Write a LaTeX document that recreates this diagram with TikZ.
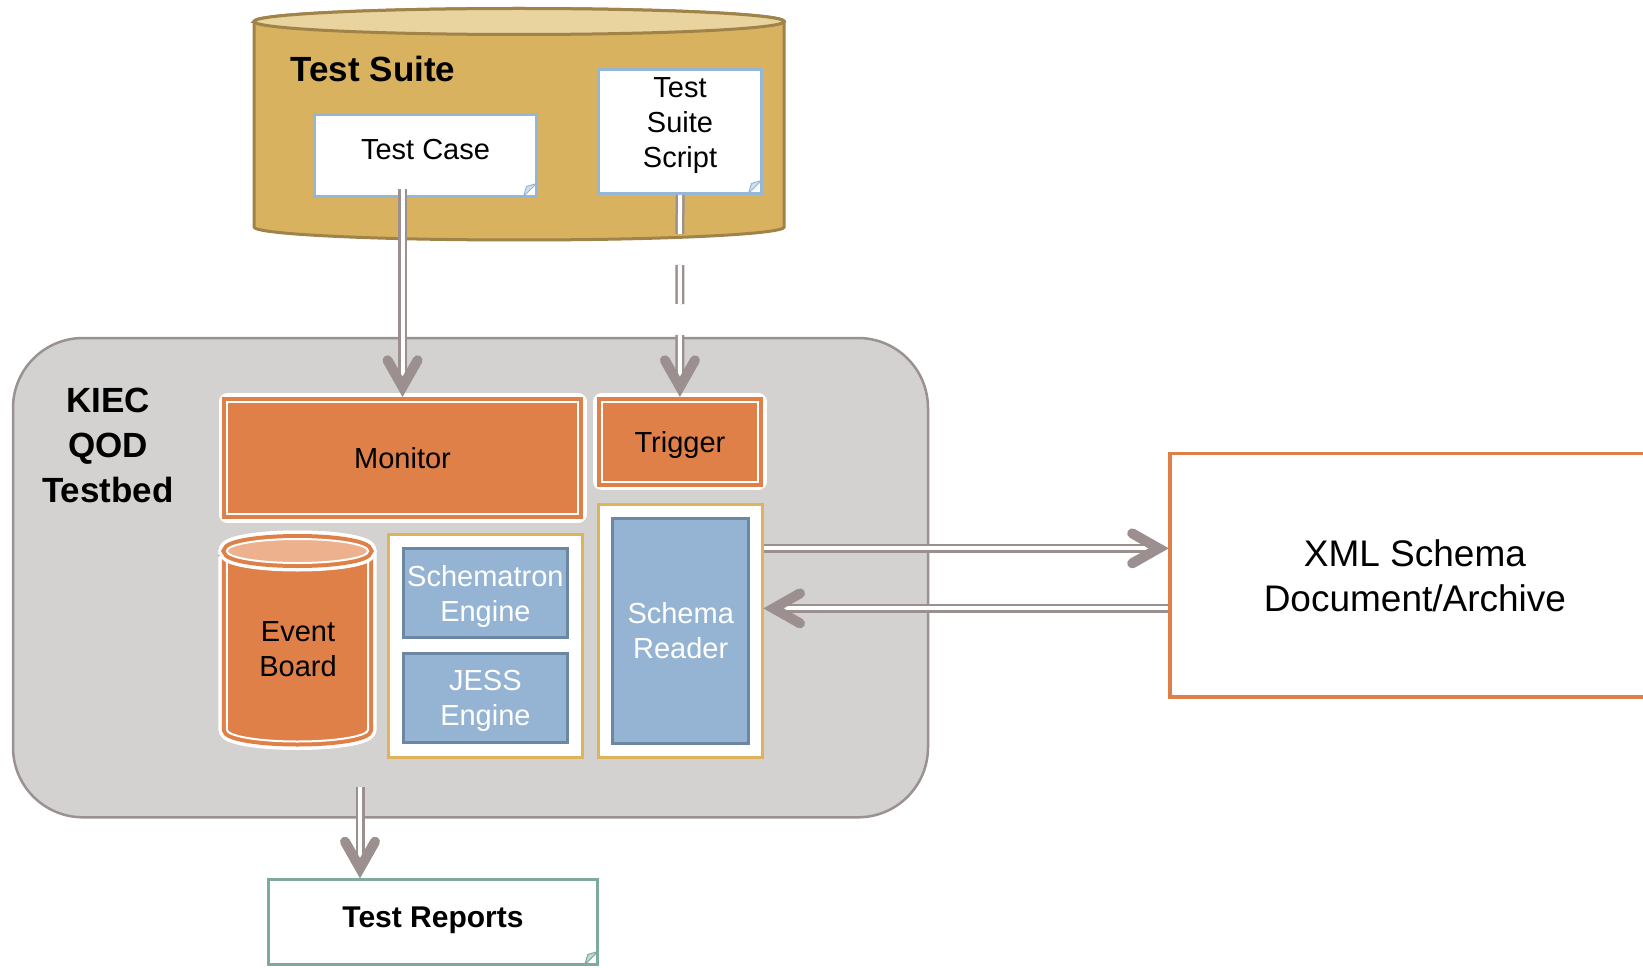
\documentclass[tikz,border=0pt]{standalone}
\usepackage{fontspec}
\setmainfont{Liberation Sans}
\usetikzlibrary{calc,shapes.misc,decorations.markings}

\definecolor{orangec}{RGB}{222,128,72}
\definecolor{lightorange}{RGB}{237,177,142}
\definecolor{bluec}{RGB}{149,180,211}
\definecolor{blueedge}{RGB}{108,135,163}
\definecolor{goldc}{RGB}{221,180,92}
\definecolor{suitefill}{RGB}{216,178,94}
\definecolor{suitetopc}{RGB}{233,211,158}
\definecolor{suiteedge}{RGB}{160,131,72}
\definecolor{docblue}{RGB}{149,183,215}
\definecolor{reportc}{RGB}{125,170,155}
\definecolor{kiecfill}{RGB}{211,210,209}
\definecolor{kiecedge}{RGB}{155,145,145}
\definecolor{arrowc}{RGB}{155,143,143}
\definecolor{xmlc}{RGB}{224,126,72}

\begin{document}
\begin{tikzpicture}[x=0.5pt,y=-0.5pt,
	every node/.style={font=\fontsize{14.5pt}{17.5pt}\selectfont, align=center, inner sep=0pt},
	bigtext/.style={font=\fontsize{17.5pt}{22.5pt}\selectfont\bfseries},
	orangeframe/.style={draw=white, line width=1pt, preaction={draw=white, line width=8.5pt, line join=round}, preaction={draw=orangec, line width=5pt}},
	obox/.style={orangeframe, fill=orangec, rectangle, text depth=0pt},
	bluebox/.style={fill=bluec, draw=blueedge, line width=1.5pt, text=white, text depth=0pt},
	goldbox/.style={fill=white, draw=goldc, line width=1.5pt},
	doc/.style={chamfered rectangle, chamfered rectangle corners=south east, chamfered rectangle xsep=6.5pt, draw=#1, fill=white, line width=1.5pt},
	fold/.style={fill=#1!45!white, draw=#1, line width=0.5pt, line join=round},
	suitebody/.style={fill=suitefill, draw=suiteedge, line width=1.5pt},
	suitetop/.style={fill=suitetopc, draw=suiteedge, line width=1.5pt},
	dline/.style={preaction={draw=arrowc, line width=1.25pt, double=white, double distance=2pt, shorten >=4pt, #1}, postaction={decorate, decoration={markings, mark=at position 1 with {\draw[arrowc, line width=5pt, line cap=round, line join=miter] (-18pt,7.5pt) -- (-4.75pt,0pt) -- (-18pt,-7.5pt);}}}},
	dline/.default={solid}]
	\useasboundingbox (0,0) rectangle (1643,968);

	\filldraw[suitebody] (254,21.5) -- (254,227) arc (180:360:132.55pt and 6.5pt) -- (784.2,21.5) arc (0:180:132.55pt and 6.5pt) -- cycle;
	\filldraw[suitetop] (519.1,21.5) ellipse (132.55pt and 6.5pt);
	\node (suite) at (373,68.5)[bigtext]{Test Suite};
	\node (tcase) at (425.5,155.5)[doc=docblue, minimum width=111pt, minimum height=41pt, label={[yshift=2.75pt]center:Test Case}]{};
	\filldraw[fold=docblue] (523.5,196.5) -- (536.5,183.5) -- (526.5,186.5) -- cycle;
	\node (script) at (680,131.5)[doc=docblue, minimum width=81.5pt, minimum height=62pt, label={[yshift=3pt]center:{Test\\Suite\\Script}}]{};
	\filldraw[fold=docblue] (748.5,193.5) -- (761.5,180.5) -- (751.5,183.5) -- cycle;

	\node (kiec) at (470.5,577.65)[draw=kiecedge, fill=kiecfill, line width=1.25pt, rounded corners=35pt, minimum width=457.5pt, minimum height=239.65pt]{};
	\node (kiectext) at (108,445)[bigtext]{KIEC\\QOD\\Testbed};
	\node (monitor) at (402.55,458)[obox, minimum width=175.55pt, minimum height=56.2pt]{Monitor};
	\node (trigger) at (679.9,441.65)[obox, minimum width=78.4pt, minimum height=39.85pt]{Trigger};

	\path[orangeframe, fill=orangec] (226.8,551) -- (226.8,729.5) arc (180:360:35.35pt and 6pt) -- (368.2,551) arc (0:180:35.35pt and 6pt) -- cycle;
	\path[orangeframe, fill=lightorange] (297.5,551) ellipse (35.35pt and 6pt);
	\node (board) at (298,649){Event\\Board};

	\node (schembox) at (485.4,645.65)[goldbox, minimum width=97.1pt, minimum height=111.45pt]{};
	\node (schematron) at (485.4,593)[bluebox, minimum width=82.3pt, minimum height=44.8pt]{Schematron\\Engine};
	\node (jess) at (485.4,697.85)[bluebox, minimum width=82.3pt, minimum height=44.65pt]{JESS\\Engine};
	\node (readerbox) at (680.5,630.65)[goldbox, minimum width=82pt, minimum height=126.45pt]{};
	\node (reader) at (680.7,630.85)[bluebox, minimum width=67.8pt, minimum height=112.65pt]{Schema\\Reader};

	\node (xml) at (1414.9,575.35)[draw=xmlc, fill=white, line width=1.75pt, minimum width=245pt, minimum height=121.85pt, font=\fontsize{18.5pt}{22.5pt}\selectfont]{XML Schema\\Document/Archive};

	\node (reports) at (433,921.85)[doc=reportc, minimum width=164.8pt, minimum height=42.65pt, label={[yshift=0.8pt, font=\fontsize{15pt}{18pt}\selectfont\bfseries]center:Test Reports}]{};
	\filldraw[fold=reportc] (584.8,964.5) -- (597.8,951.5) -- (587.8,954.5) -- cycle;

	\path[dline] ($(tcase.south -| monitor.north)+(0,-8.5)$) -- ($(monitor.north)+(0,-4.5)$);
	\path[dline={dash pattern=on 19.5pt off 15.5pt on 19.5pt off 15.5pt on 60pt off 10pt}] (script.south) -- ($(trigger.north)+(0,-4.5)$);
	\coordinate (xin) at ($(xml.west)+(0,-27)$);
	\coordinate (xout) at ($(xml.west)+(0,33)$);
	\path[dline] (readerbox.east |- xin) -- (xin);
	\path[dline] (xout) -- (readerbox.east |- xout);
	\coordinate (kout) at (360,787);
	\path[dline] (kout) -- (kout |- reports.north);
\end{tikzpicture}
\end{document}
